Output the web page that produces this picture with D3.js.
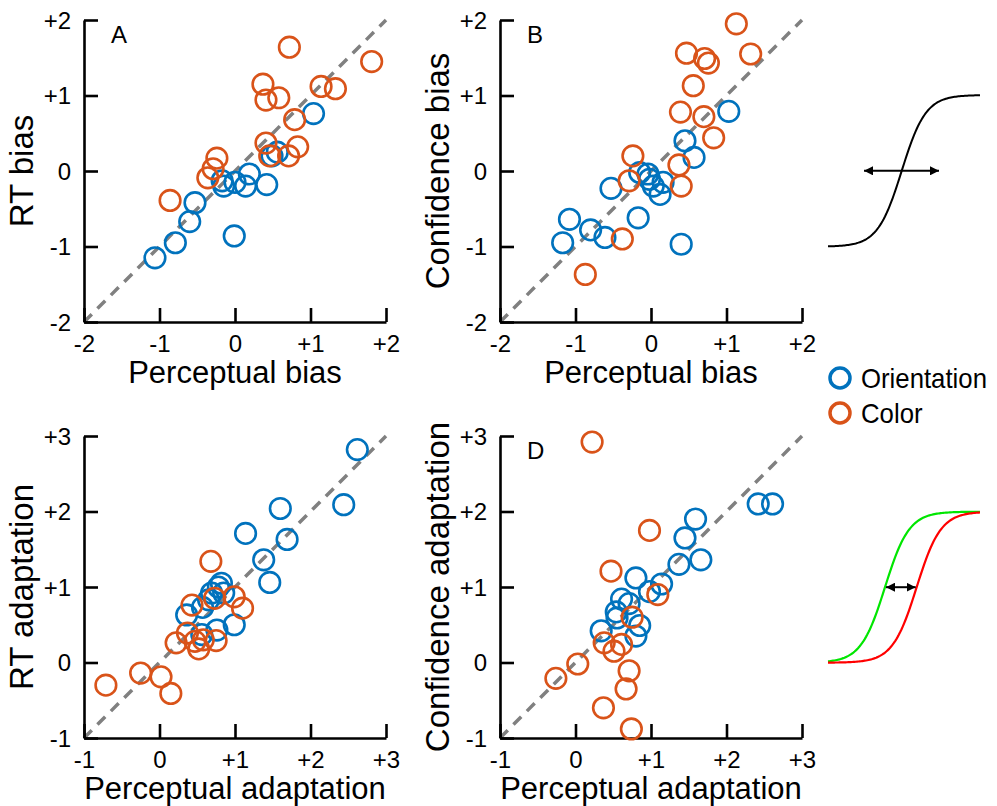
<!DOCTYPE html>
<html><head><meta charset="utf-8">
<script src="https://cdn.jsdelivr.net/npm/d3@7"></script>
<style>
html,body{margin:0;padding:0;background:#fff;}
svg text{font-family:"Liberation Sans",Arial,Helvetica,sans-serif;fill:#000;}
</style></head>
<body>
<svg id="fig" width="997" height="806"></svg>
<script>
// ---------- DATA ----------
const biasTicks = [-2, -1, 0, 1, 2];
const biasTickLabels = ["-2", "-1", "0", "+1", "+2"];
const adaptTicks = [-1, 0, 1, 2, 3];
const adaptTickLabels = ["-1", "0", "+1", "+2", "+3"];
const seriesNames = ["Orientation", "Color"];

// Panel A: Perceptual bias vs RT bias
const aOrientation = [[1.04,0.76],[0.56,0.25],[0.49,0.2],[-0.17,-0.13],[0.0,-0.15],[0.19,-0.04],[0.14,-0.2],[0.42,-0.18],[-0.15,-0.2],[-0.53,-0.42],[-0.6,-0.67],[-0.79,-0.95],[-1.06,-1.15],[-0.01,-0.86]];
const aColor = [[0.72,1.64],[1.81,1.45],[0.37,1.15],[0.41,0.94],[0.58,0.97],[1.14,1.12],[1.33,1.09],[0.79,0.68],[0.41,0.37],[0.83,0.32],[0.71,0.2],[0.46,0.2],[-0.24,0.17],[-0.29,0.03],[-0.36,-0.09],[-0.86,-0.39]];
// Panel B: Perceptual bias vs Confidence bias
const bOrientation = [[1.03,0.79],[0.45,0.4],[0.57,0.18],[-0.15,-0.02],[-0.02,-0.11],[0.16,-0.15],[0.03,-0.2],[0.12,-0.31],[-0.53,-0.23],[-0.17,-0.62],[-1.08,-0.64],[-0.8,-0.78],[-0.61,-0.88],[-1.17,-0.95],[0.4,-0.97],[-0.04,-0.04]];
const bColor = [[1.13,1.95],[0.47,1.56],[0.71,1.49],[0.76,1.43],[1.32,1.55],[0.56,1.13],[0.39,0.78],[0.7,0.72],[0.83,0.44],[-0.24,0.2],[0.37,0.08],[-0.29,-0.13],[0.4,-0.2],[-0.38,-0.9],[-0.87,-1.37]];
// Panel C: Perceptual adaptation vs RT adaptation
const cOrientation = [[2.62,2.82],[1.6,2.04],[2.44,2.09],[1.14,1.71],[1.69,1.63],[1.38,1.36],[1.46,1.06],[0.82,1.05],[0.78,1.0],[0.85,0.92],[0.69,0.92],[0.65,0.83],[0.36,0.63],[0.57,0.73],[0.99,0.5],[0.76,0.43],[0.56,0.37]];
const cColor = [[0.68,1.34],[0.99,0.87],[1.1,0.72],[0.73,0.85],[0.43,0.76],[0.37,0.39],[0.22,0.26],[0.47,0.28],[0.58,0.3],[0.75,0.29],[0.52,0.18],[-0.25,-0.14],[0.02,-0.19],[0.15,-0.41],[-0.71,-0.3]];
// Panel D: Perceptual adaptation vs Confidence adaptation
const dOrientation = [[2.42,2.1],[2.61,2.1],[1.59,1.9],[1.45,1.65],[1.66,1.36],[1.37,1.3],[0.8,1.12],[1.14,1.04],[0.98,0.94],[0.61,0.84],[0.71,0.78],[0.54,0.67],[0.55,0.59],[0.85,0.49],[0.34,0.42],[0.8,0.35]];
const dColor = [[0.22,2.92],[0.98,1.75],[0.47,1.21],[1.09,0.9],[0.75,0.6],[0.38,0.26],[0.51,0.15],[0.61,0.24],[0.03,-0.02],[-0.26,-0.21],[0.71,-0.11],[0.67,-0.35],[0.37,-0.6],[0.74,-0.88]];

// ---------- STYLE / LAYOUT ----------
const BLUE = "#0072BD", ORANGE = "#D95319";
const svg = d3.select("#fig");

const panels = [
  {letter:"A", x0:84, x1:386, y0:322, y1:20, dom:[-2,2], ticks:biasTicks, labels:biasTickLabels,
   xTitle:"Perceptual bias", yTitle:"RT bias", orient:aOrientation, color:aColor},
  {letter:"B", x0:500, x1:802, y0:322, y1:20, dom:[-2,2], ticks:biasTicks, labels:biasTickLabels,
   xTitle:"Perceptual bias", yTitle:"Confidence bias", orient:bOrientation, color:bColor},
  {letter:"", x0:84, x1:386, y0:738, y1:436, dom:[-1,3], ticks:adaptTicks, labels:adaptTickLabels,
   xTitle:"Perceptual adaptation", yTitle:"RT adaptation", orient:cOrientation, color:cColor},
  {letter:"D", x0:500, x1:802, y0:738, y1:436, dom:[-1,3], ticks:adaptTicks, labels:adaptTickLabels,
   xTitle:"Perceptual adaptation", yTitle:"Confidence adaptation", orient:dOrientation, color:dColor}
];

panels.forEach(p => {
  const x = d3.scaleLinear().domain(p.dom).range([p.x0, p.x1]);
  const y = d3.scaleLinear().domain(p.dom).range([p.y0, p.y1]);
  const g = svg.append("g");

  // identity dashed line
  g.append("line")
    .attr("x1", x(p.dom[0])).attr("y1", y(p.dom[0]))
    .attr("x2", x(p.dom[1])).attr("y2", y(p.dom[1]))
    .attr("stroke", "#808080").attr("stroke-width", 3.5)
    .attr("stroke-dasharray", "11,8");

  // axes (ticks inward)
  const fmt = d => p.labels[p.ticks.indexOf(d)];
  const xAx = g.append("g").attr("transform", `translate(0,${p.y0})`)
    .call(d3.axisBottom(x).tickValues(p.ticks).tickFormat(fmt).tickSizeInner(-14).tickSizeOuter(0).tickPadding(30));
  const yAx = g.append("g").attr("transform", `translate(${p.x0},0)`)
    .call(d3.axisLeft(y).tickValues(p.ticks).tickFormat(fmt).tickSizeInner(-14).tickSizeOuter(0).tickPadding(14));
  [xAx, yAx].forEach(a => {
    a.select(".domain").attr("stroke", "#000").attr("stroke-width", 2.6);
    a.selectAll(".tick line").attr("stroke", "#000").attr("stroke-width", 2.6);
    a.selectAll(".tick text").attr("font-size", 24).attr("font-family", "Liberation Sans, Arial, sans-serif").attr("fill", "#000");
  });
  xAx.selectAll(".tick text").attr("dy", null).attr("y", 30);
  yAx.selectAll(".tick text").attr("x", -13).attr("dy", "0.35em");

  // points
  [[p.orient, BLUE], [p.color, ORANGE]].forEach(([data, col]) => {
    g.append("g").selectAll("circle").data(data).join("circle")
      .attr("cx", d => x(d[0])).attr("cy", d => y(d[1])).attr("r", 10.3)
      .attr("fill", "none").attr("stroke", col).attr("stroke-width", 2.6);
  });

  // panel letter
  if (p.letter) g.append("text").attr("x", p.x0 + 27).attr("y", p.y1 + 23)
    .attr("font-size", 24).text(p.letter);

  // axis titles
  g.append("text").attr("x", (p.x0 + p.x1) / 2).attr("y", p.y0 + 61)
    .attr("text-anchor", "middle").attr("font-size", 31).text(p.xTitle);
  g.append("text").attr("transform", `translate(${p.x0 - 51},${(p.y0 + p.y1) / 2}) rotate(-90)`)
    .attr("text-anchor", "middle").attr("font-size", 33).text(p.yTitle);
});

// ---------- LEGEND ----------
const legend = svg.append("g");
[[seriesNames[0], BLUE, 378], [seriesNames[1], ORANGE, 413]].forEach(([name, col, yy]) => {
  legend.append("circle").attr("cx", 840).attr("cy", yy).attr("r", 10)
    .attr("fill", "none").attr("stroke", col).attr("stroke-width", 3.5);
  legend.append("text").attr("transform", `translate(861,${yy}) scale(0.92,1)`).attr("dy", "0.36em")
    .attr("font-size", 28).text(name);
});

// ---------- SCHEMATIC PSYCHOMETRIC CURVES ----------
const defs = svg.append("defs");
["s", "e"].forEach(k => {
  defs.append("marker").attr("id", "arr" + k).attr("markerUnits", "userSpaceOnUse")
    .attr("viewBox", "0 -5 10 10").attr("refX", k === "e" ? 10 : 0).attr("refY", 0)
    .attr("markerWidth", 9).attr("markerHeight", 9).attr("orient", "auto")
    .append("path").attr("d", k === "e" ? "M0,-5L10,0L0,5Z" : "M10,-5L0,0L10,5Z").attr("fill", "#000");
});
const logistic = (v, shift) => 1 / (1 + Math.exp(-(v - shift) / 0.95));
const sGrid = d3.range(-6, 6.001, 0.1);
const sx = d3.scaleLinear().domain([-6, 6]).range([828, 980]);

// top: bias (single curve)
const syTop = d3.scaleLinear().domain([0, 1]).range([246.7, 95]);
const lineTop = d3.line().x(d => sx(d)).y(d => syTop(logistic(d, -0.18)));
svg.append("path").attr("d", lineTop(sGrid)).attr("fill", "none").attr("stroke", "#000").attr("stroke-width", 2);
svg.append("line").attr("x1", 864).attr("x2", 939).attr("y1", syTop(0.5)).attr("y2", syTop(0.5))
  .attr("stroke", "#000").attr("stroke-width", 2)
  .attr("marker-start", "url(#arrs)").attr("marker-end", "url(#arre)");

// bottom: adaptation (two shifted curves)
const syBot = d3.scaleLinear().domain([0, 1]).range([662.7, 511.7]);
const shifts = [{s: -1.5, c: "#00E600"}, {s: 1.0, c: "#FF0000"}];
shifts.forEach(o => {
  const ln = d3.line().x(d => sx(d)).y(d => syBot(logistic(d, o.s)));
  svg.append("path").attr("d", ln(sGrid)).attr("fill", "none").attr("stroke", o.c).attr("stroke-width", 2.2);
});
svg.append("line").attr("x1", sx(shifts[0].s) + 1).attr("x2", sx(shifts[1].s) - 1)
  .attr("y1", syBot(0.5)).attr("y2", syBot(0.5))
  .attr("stroke", "#000").attr("stroke-width", 2)
  .attr("marker-start", "url(#arrs)").attr("marker-end", "url(#arre)");
</script>
</body></html>
